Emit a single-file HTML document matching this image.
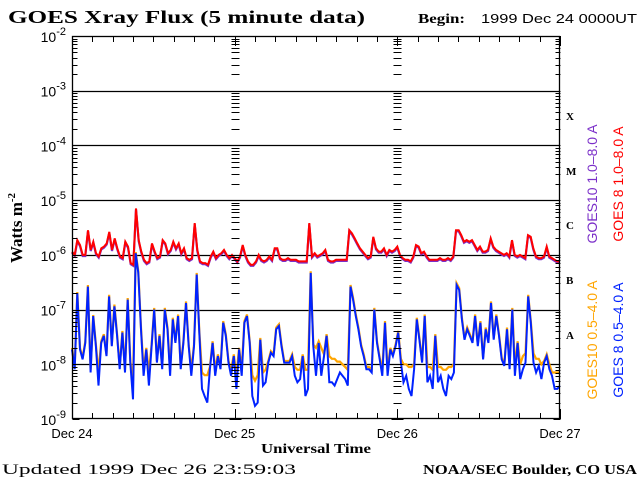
<!DOCTYPE html>
<html><head><meta charset="utf-8"><style>
body{margin:0;background:#fff;}
svg{display:block;}
.serif{font-family:"Liberation Serif",serif;font-weight:bold;}
.sans{font-family:"Liberation Sans",sans-serif;}
</style></head><body>
<svg id="chart" width="640" height="480" xmlns="http://www.w3.org/2000/svg">
<rect width="640" height="480" fill="#fff"/>
<text class="serif" x="8" y="23" font-size="18" textLength="357" lengthAdjust="spacingAndGlyphs">GOES Xray Flux (5 minute data)</text>
<text class="serif" x="418" y="23" font-size="14" textLength="47" lengthAdjust="spacingAndGlyphs">Begin:</text>
<text class="sans" x="481" y="23" font-size="13" textLength="156" lengthAdjust="spacingAndGlyphs">1999 Dec 24 0000UT</text>
<g id="grid"></g>
<g id="series"></g>
<g id="axes"></g>
<text class="serif" transform="translate(22,228) rotate(-90)" text-anchor="middle" font-size="17">Watts m<tspan font-size="11" dy="-7">-2</tspan></text>
<text class="serif" x="261" y="453" font-size="14" textLength="110" lengthAdjust="spacingAndGlyphs">Universal Time</text>
<text x="2" y="474" font-size="15" font-family="Liberation Serif, serif" textLength="294" lengthAdjust="spacingAndGlyphs">Updated 1999 Dec 26 23:59:03</text>
<text class="serif" x="423" y="474" font-size="14" textLength="214" lengthAdjust="spacingAndGlyphs">NOAA/SEC Boulder, CO USA</text>
<g class="serif" font-size="11">
<text x="566" y="120">X</text>
<text x="566" y="175">M</text>
<text x="566" y="229">C</text>
<text x="566" y="284">B</text>
<text x="566" y="339">A</text>
</g>
<g class="sans" font-size="14" text-anchor="middle">
<text transform="translate(597,184) rotate(-90)" fill="#7b2fc9">GOES10 1.0–8.0 A</text>
<text transform="translate(623,184) rotate(-90)" fill="#ff0000">GOES 8 1.0–8.0 A</text>
<text transform="translate(597,340) rotate(-90)" fill="#ffa500">GOES10 0.5–4.0 A</text>
<text transform="translate(623,340) rotate(-90)" fill="#0022ff">GOES 8 0.5–4.0 A</text>
</g>
</svg>
<script>
const dayLabels=["Dec 24","Dec 25","Dec 26","Dec 27"];
const decades=[-2,-3,-4,-5,-6,-7,-8,-9];
const goes8Long=[-5.94,-6.00,-5.73,-5.82,-6.00,-6.00,-5.55,-5.91,-5.76,-5.97,-6.03,-5.88,-5.85,-5.79,-5.58,-5.91,-5.70,-5.88,-6.03,-6.06,-5.76,-5.85,-6.15,-6.18,-5.15,-5.73,-5.94,-6.09,-6.15,-6.12,-5.79,-5.94,-6.06,-6.03,-5.73,-5.79,-5.97,-5.91,-5.76,-5.88,-5.79,-5.97,-5.88,-6.06,-6.09,-6.06,-5.42,-5.91,-6.12,-6.15,-6.15,-6.18,-6.03,-5.94,-6.06,-6.00,-5.97,-5.91,-6.00,-6.06,
-6.00,-6.06,-6.12,-6.03,-5.82,-6.00,-6.12,-6.18,-6.18,-6.12,-6.00,-6.09,-6.12,-6.09,-6.03,-6.09,-5.88,-5.88,-6.06,-6.09,-6.09,-6.06,-6.09,-6.09,-6.09,-6.12,-6.12,-6.12,-6.12,-5.42,-6.03,-5.97,-6.03,-6.00,-5.97,-5.91,-6.09,-6.12,-6.12,-6.09,-6.09,-6.09,-6.09,-6.09,-5.55,-5.61,-5.70,-5.79,-5.88,-5.94,-6.00,-6.06,-6.03,-5.67,-5.88,-5.94,-5.94,-5.88,-6.00,-5.91,-5.94,
-5.91,-5.85,-6.00,-6.06,-6.09,-6.09,-6.12,-6.03,-5.82,-5.85,-5.97,-5.94,-6.03,-6.09,-6.09,-6.09,-6.09,-6.06,-6.09,-6.09,-6.06,-6.09,-6.03,-5.55,-5.55,-5.64,-5.76,-5.73,-5.76,-5.73,-5.82,-5.91,-5.85,-5.94,-5.94,-5.91,-5.70,-5.85,-5.91,-5.94,-5.97,-6.00,-5.97,-6.03,-5.73,-6.00,-6.03,-6.00,-6.03,-6.06,-5.64,-5.67,-5.88,-6.03,-6.06,-6.06,-6.03,-5.85,-6.03,-6.06,-6.09,-6.12,-6.12];
const goes10Long=[-5.96,-6.02,-5.75,-5.84,-6.02,-6.02,-5.57,-5.93,-5.78,-5.99,-6.05,-5.90,-5.87,-5.81,-5.60,-5.93,-5.72,-5.90,-6.05,-6.08,-5.78,-5.87,-6.17,-6.20,-5.17,-5.75,-5.96,-6.11,-6.17,-6.14,-5.81,-5.96,-6.08,-6.05,-5.75,-5.81,-5.99,-5.93,-5.78,-5.90,-5.81,-5.99,-5.90,-6.08,-6.11,-6.08,-5.44,-5.93,-6.14,-6.17,-6.17,-6.20,-6.05,-5.96,-6.08,-6.02,-5.99,-5.93,-6.02,-6.08,
-6.02,-6.08,-6.14,-6.05,-5.84,-6.02,-6.14,-6.20,-6.20,-6.14,-6.02,-6.11,-6.14,-6.11,-6.05,-6.11,-5.90,-5.90,-6.08,-6.11,-6.11,-6.08,-6.11,-6.11,-6.11,-6.14,-6.14,-6.14,-6.14,-5.44,-6.05,-5.99,-6.05,-6.02,-5.99,-5.93,-6.11,-6.14,-6.14,-6.11,-6.11,-6.11,-6.11,-6.11,-5.57,-5.63,-5.72,-5.81,-5.90,-5.96,-6.02,-6.08,-6.05,-5.69,-5.90,-5.96,-5.96,-5.90,-6.02,-5.93,-5.96,
-5.93,-5.87,-6.02,-6.08,-6.11,-6.11,-6.14,-6.05,-5.84,-5.87,-5.99,-5.96,-6.05,-6.11,-6.11,-6.11,-6.11,-6.08,-6.11,-6.11,-6.08,-6.11,-6.05,-5.57,-5.57,-5.66,-5.78,-5.75,-5.78,-5.75,-5.84,-5.93,-5.87,-5.96,-5.96,-5.93,-5.72,-5.87,-5.93,-5.96,-5.99,-6.02,-5.99,-6.05,-5.75,-6.02,-6.05,-6.02,-6.05,-6.08,-5.66,-5.69,-5.90,-6.05,-6.08,-6.08,-6.05,-5.87,-6.05,-6.08,-6.11,-6.14,-6.14];
const goes8Short=[-7.73,-8.09,-6.70,-7.73,-7.91,-7.61,-6.58,-8.15,-7.12,-7.67,-8.39,-7.61,-7.48,-7.85,-6.76,-7.67,-6.94,-7.48,-8.09,-7.42,-8.15,-6.82,-7.97,-8.64,-5.97,-6.33,-7.36,-8.21,-7.73,-8.39,-7.67,-7.00,-7.97,-7.48,-8.09,-7.00,-7.36,-8.21,-7.18,-7.61,-7.12,-8.09,-7.61,-6.88,-7.67,-8.21,-7.67,-6.36,-7.42,-8.45,-8.58,-8.70,-8.09,-7.61,-8.21,-7.85,-8.09,-7.24,-7.48,-7.97,-8.21,
-7.85,-8.45,-7.73,-8.21,-7.24,-7.12,-7.61,-8.58,-8.76,-8.70,-7.55,-8.39,-8.33,-7.97,-7.79,-7.85,-7.36,-7.30,-7.67,-7.97,-7.97,-7.97,-7.85,-8.21,-8.33,-8.27,-7.85,-8.58,-8.45,-6.33,-7.67,-8.21,-7.61,-8.21,-7.85,-7.48,-8.33,-8.33,-8.39,-8.27,-8.15,-8.21,-8.27,-8.39,-6.58,-6.82,-7.12,-7.36,-7.67,-7.85,-8.09,-8.09,-8.15,-7.00,-7.61,-7.91,-8.21,-7.24,-8.21,-7.73,-7.85,
-7.67,-7.42,-7.97,-8.33,-8.21,-8.45,-8.58,-8.09,-7.18,-7.55,-7.97,-7.12,-8.33,-8.21,-8.45,-7.48,-8.33,-8.21,-8.45,-8.58,-8.21,-8.27,-8.15,-6.55,-6.64,-7.18,-7.55,-7.36,-7.48,-7.61,-7.12,-7.67,-7.24,-7.91,-7.36,-7.61,-6.88,-7.55,-7.12,-7.48,-7.91,-8.03,-7.36,-8.09,-7.00,-8.21,-7.61,-8.27,-8.09,-7.97,-6.76,-7.24,-7.97,-8.15,-8.03,-8.27,-7.97,-7.85,-8.09,-8.21,-8.45,-8.45,-8.39];
const goes10Short=[-7.70,-8.05,-6.68,-7.70,-7.88,-7.58,-6.55,-8.10,-7.10,-7.64,-8.15,-7.58,-7.45,-7.82,-6.73,-7.64,-6.91,-7.45,-8.05,-7.39,-8.10,-6.79,-7.94,-8.30,-5.95,-6.30,-7.33,-8.10,-7.70,-8.15,-7.64,-6.97,-7.94,-7.45,-8.05,-6.97,-7.33,-8.10,-7.15,-7.58,-7.09,-8.05,-7.58,-6.85,-7.64,-8.10,-7.64,-6.33,-7.39,-8.15,-8.20,-8.20,-8.05,-7.58,-8.10,-7.82,-8.05,-7.21,-7.45,-7.94,-8.10,
-7.82,-8.20,-7.70,-8.10,-7.21,-7.09,-7.58,-8.20,-8.30,-8.20,-7.52,-8.15,-8.10,-7.94,-7.76,-7.82,-7.33,-7.27,-7.64,-7.94,-7.94,-7.94,-7.82,-8.05,-8.10,-8.10,-7.82,-8.10,-8.10,-6.30,-7.64,-7.70,-7.58,-7.70,-7.82,-7.45,-7.85,-7.90,-7.90,-7.95,-7.95,-8.00,-8.05,-8.10,-6.55,-6.79,-7.09,-7.33,-7.64,-7.82,-8.05,-8.05,-8.10,-6.97,-7.58,-7.88,-8.10,-7.21,-8.10,-7.70,-7.82,
-7.64,-7.39,-7.90,-8.00,-8.00,-8.05,-8.05,-8.00,-7.15,-7.52,-7.94,-7.09,-8.05,-8.05,-8.10,-7.45,-8.05,-8.05,-8.10,-8.10,-8.05,-8.05,-8.00,-6.52,-6.61,-7.15,-7.52,-7.33,-7.45,-7.58,-7.09,-7.64,-7.21,-7.88,-7.33,-7.58,-6.85,-7.52,-7.09,-7.45,-7.88,-8.00,-7.33,-8.00,-6.97,-8.05,-7.58,-8.00,-7.85,-7.80,-6.73,-7.21,-7.80,-7.90,-7.90,-8.00,-7.94,-7.82,-8.00,-8.15,-8.15,-8.15,-8.15];

const NS="http://www.w3.org/2000/svg";
const X0=72,X1=560,Y0=36,Y1=419;
const xScale=d=>X0+(d/3)*(X1-X0);
const yScale=l=>Y0+(-2-l)/7*(Y1-Y0);
function mk(tag,attrs,parent){const e=document.createElementNS(NS,tag);for(const k in attrs)e.setAttribute(k,attrs[k]);parent.appendChild(e);return e;}
const grid=document.getElementById('grid'),axes=document.getElementById('axes'),ser=document.getElementById('series');

for(let i=1;i<decades.length-1;i++){
  const y=Math.round(yScale(decades[i]))+0.5;
  const l=mk('line',{x1:X0,x2:X1,y1:y,y2:y,stroke:'#000','stroke-width':1.3},grid);
  
  
}
const fr=mk('rect',{x:X0+0.5,y:Y0+0.5,width:X1-X0-1,height:Y1-Y0-1,fill:'none',stroke:'#000','stroke-width':1.3},axes);


for(let d=0;d<=3;d++){
  const x=Math.round(xScale(d))+0.5;
  for(let k=0;k<7;k++){
    const base=decades[k+1];
    for(let m=1;m<=9;m++){
      const y=Math.round(yScale(base+Math.log10(m)))+0.5;
      const len=(m===1)?6:4;
      let x1=x-len,x2=x+len;
      if(d===0){x1=x;x2=x+len+1;} if(d===3){x1=x-len-1;x2=x;}
      const t=mk('line',{x1:x1,x2:x2,y1:y,y2:y,stroke:'#000','stroke-width':1},axes);
      
      
    }
  }
}
for(let h=0;h<=72;h+=3){
  const x=Math.round(xScale(h/24))+0.5;
  const len=(h%24===0)?10:6;
  const t1=mk('line',{x1:x,x2:x,y1:Y1,y2:Y1-len,stroke:'#000','stroke-width':1},axes);
  
  
  const t2=mk('line',{x1:x,x2:x,y1:Y0,y2:Y0+len,stroke:'#000','stroke-width':1},axes);
  
  
}
decades.forEach(v=>{
  const t=mk('text',{x:66,y:yScale(v)+6,'text-anchor':'end','font-size':14,'font-family':'Liberation Sans, sans-serif'},axes);
  
  
  t.textContent='10';
  const s=mk('tspan',{'font-size':11,dy:-7},t);s.textContent=String(v);
});
dayLabels.forEach((lab,i)=>{
  const t=mk('text',{x:xScale(i),y:438,'text-anchor':'middle','font-size':13,'font-family':'Liberation Sans, sans-serif'},axes);
  
  
  t.textContent=lab;
});
function drawSeries(arr,color,name,w){
  const n=arr.length;
  let d='';
  arr.forEach((v,i)=>{d+=(i?'L':'M')+xScale(3*i/(n-1)).toFixed(1)+','+yScale(v).toFixed(1);});
  const p=mk('path',{d:d,fill:'none',stroke:color,'stroke-width':w,'stroke-linejoin':'miter'},ser);
  
  
}
drawSeries(goes10Long,'#7b2fc9','series-goes10-long',2.2);
drawSeries(goes8Long,'#ff0000','series-goes8-long',2);
drawSeries(goes10Short,'#ffa500','series-goes10-short',2.2);
drawSeries(goes8Short,'#0022ff','series-goes8-short',2);
</script>
</body></html>
